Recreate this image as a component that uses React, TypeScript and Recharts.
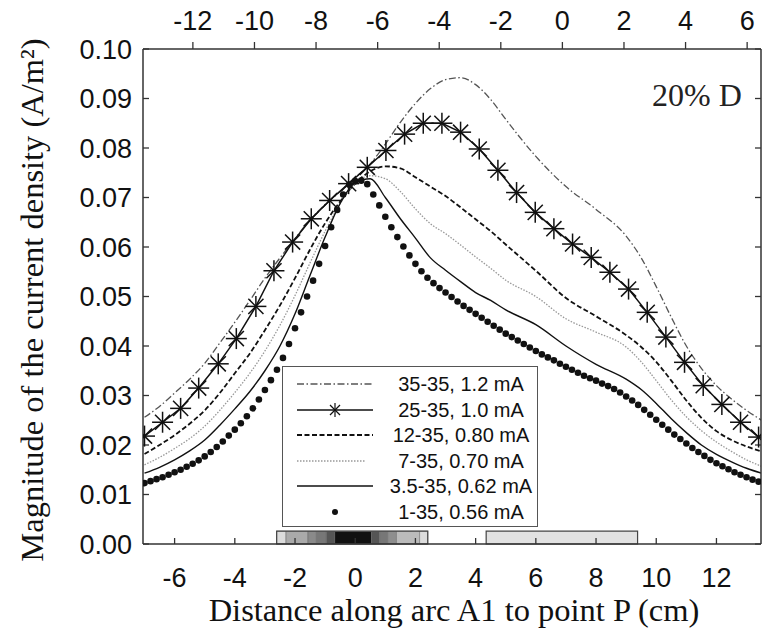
import { ComposedChart, Line, XAxis, YAxis, ReferenceArea } from "recharts";

// axis ticks
const topTicks = [-12, -10, -8, -6, -4, -2, 0, 2, 4, 6];
const bottomTicks = [-6, -4, -2, 0, 2, 4, 6, 8, 10, 12];
const yTicks = [0, 0.01, 0.02, 0.03, 0.04, 0.05, 0.06, 0.07, 0.08, 0.09, 0.1];

// shared x grid for the smooth curves (cm)
const gridX = [
  -7, -6.5, -6, -5.5, -5, -4.5, -4, -3.5, -3, -2.5,
  -2, -1.5, -1, -0.5, 0, 0.5, 1, 1.5, 2, 2.5,
  3, 3.5, 4, 4.5, 5, 6, 7, 8, 9, 9.5,
  10, 10.5, 11, 11.5, 12, 12.5, 13, 13.5,
];

// 35-35, 1.2 mA
const j35 = [
  0.0256, 0.0278, 0.0305, 0.0333, 0.0365, 0.0406, 0.0448, 0.0492, 0.0537, 0.0578,
  0.0617, 0.0655, 0.0686, 0.0712, 0.074, 0.0768, 0.0808, 0.0852, 0.089, 0.092,
  0.0938, 0.0942, 0.0928, 0.0898, 0.0858, 0.0783, 0.0722, 0.0676, 0.0622, 0.0578,
  0.052, 0.0458, 0.04, 0.0355, 0.032, 0.0293, 0.027, 0.025,
];

// 12-35, 0.80 mA
const j12 = [
  0.0182, 0.02, 0.022, 0.0243, 0.027, 0.0305, 0.0345, 0.0385, 0.0432, 0.0482,
  0.0537, 0.0595, 0.0648, 0.0692, 0.0728, 0.0753, 0.0763, 0.0759, 0.0741, 0.0722,
  0.0703, 0.068, 0.0656, 0.0632, 0.0605, 0.0552, 0.0497, 0.046, 0.0422, 0.0398,
  0.0368, 0.033, 0.029, 0.0255, 0.0228, 0.021, 0.0197, 0.0187,
];

// 7-35, 0.70 mA
const j7 = [
  0.016, 0.0175, 0.0193, 0.0213, 0.0238, 0.027, 0.0306, 0.0345, 0.039, 0.0442,
  0.0502, 0.0568, 0.0632, 0.0688, 0.0728, 0.0744, 0.0738, 0.0712, 0.0677, 0.0647,
  0.0627, 0.0604, 0.058, 0.0557, 0.0533, 0.05, 0.0455, 0.0428, 0.0398, 0.0368,
  0.033, 0.0291, 0.0257, 0.0229, 0.0206, 0.0187, 0.017, 0.0157,
];

// 3.5-35, 0.62 mA
const j3p5 = [
  0.0143, 0.0155, 0.017, 0.0188, 0.021, 0.024, 0.0273, 0.0308, 0.035, 0.04,
  0.0465, 0.0543, 0.062, 0.0688, 0.073, 0.0738, 0.07, 0.0657, 0.0618, 0.0578,
  0.0553, 0.053, 0.0508, 0.0492, 0.0473, 0.0443, 0.04, 0.0363, 0.0333, 0.0312,
  0.0284, 0.0253, 0.0225, 0.02, 0.0181, 0.0166, 0.0153, 0.0143,
];

// 25-35, 1.0 mA (star markers)
const starX = [
  -7.0, -6.4, -5.8, -5.2, -4.55, -3.95, -3.3, -2.7, -2.08, -1.46,
  -0.85, -0.22, 0.4, 1.02, 1.64, 2.26, 2.88, 3.5, 4.12, 4.74,
  5.36, 5.98, 6.6, 7.22, 7.84, 8.46, 9.08, 9.7, 10.32, 10.94,
  11.56, 12.18, 12.8, 13.4,
];
const j25 = [
  0.0218, 0.0246, 0.0274, 0.0315, 0.0364, 0.0415, 0.048, 0.0552, 0.061, 0.0657,
  0.0694, 0.0728, 0.0761, 0.0795, 0.0828, 0.085, 0.085, 0.0832, 0.0798, 0.0755,
  0.071, 0.067, 0.0637, 0.0606, 0.0579, 0.0549, 0.0515, 0.0468, 0.0418, 0.0367,
  0.032, 0.0282, 0.0246, 0.0216,
];

// 1-35, 0.56 mA (dots)
const dotX = [
  -7.0, -6.8, -6.6, -6.4, -6.2, -6.0, -5.8, -5.6, -5.4, -5.2,
  -5.0, -4.8, -4.6, -4.4, -4.2, -4.0, -3.8, -3.6, -3.4, -3.2,
  -3.0, -2.8, -2.6, -2.4, -2.2, -2.0, -1.8, -1.6, -1.4, -1.2,
  -1.0, -0.8, -0.6, -0.4, -0.2, 0.0, 0.2, 0.4, 0.6, 0.8,
  1.0, 1.2, 1.4, 1.6, 1.8, 2.0, 2.2, 2.4, 2.6, 2.8,
  3.0, 3.2, 3.4, 3.6, 3.8, 4.0, 4.2, 4.4, 4.6, 4.8,
  5.0, 5.2, 5.4, 5.6, 5.8, 6.0, 6.2, 6.4, 6.6, 6.8,
  7.0, 7.2, 7.4, 7.6, 7.8, 8.0, 8.2, 8.4, 8.6, 8.8,
  9.0, 9.2, 9.4, 9.6, 9.8, 10.0, 10.2, 10.4, 10.6, 10.8,
  11.0, 11.2, 11.4, 11.6, 11.8, 12.0, 12.2, 12.4, 12.6, 12.8,
  13.0, 13.2, 13.4,
];
const j1 = [
  0.0123, 0.0127, 0.0131, 0.0135, 0.014, 0.0145, 0.015, 0.0156, 0.0162, 0.0169,
  0.0177, 0.0186, 0.0196, 0.0207, 0.0219, 0.0231, 0.0244, 0.0258, 0.0274, 0.0292,
  0.0311, 0.0331, 0.0352, 0.0376, 0.0404, 0.0436, 0.0468, 0.05, 0.0532, 0.0566,
  0.0602, 0.064, 0.0675, 0.0706, 0.0726, 0.0733, 0.0734, 0.0727, 0.0706, 0.0684,
  0.0661, 0.064, 0.062, 0.0601, 0.0583, 0.0566, 0.0551, 0.0538, 0.0527, 0.0517,
  0.0508, 0.0499, 0.049, 0.0481, 0.0473, 0.0465, 0.0457, 0.0449, 0.0441, 0.0433,
  0.0425, 0.0418, 0.0411, 0.0404, 0.0397, 0.039, 0.0383, 0.0377, 0.0371, 0.0364,
  0.0358, 0.0352, 0.0346, 0.034, 0.0335, 0.033, 0.0324, 0.0319, 0.0313, 0.0306,
  0.0298, 0.029, 0.0281, 0.0271, 0.0261, 0.0251, 0.0241, 0.0231, 0.0221, 0.0212,
  0.0203, 0.0194, 0.0186, 0.0178, 0.017, 0.0163, 0.0157, 0.0151, 0.0145, 0.014,
  0.0135, 0.013, 0.0126,
];

// electrode strips drawn at the foot of the plot (cm)
const padEdges = [-2.61, -2.3, -1.57, -1.29, -0.96, -0.68, 0.54, 0.81, 1.08, 1.37, 2.14, 2.41];
const padShades = ["#dcdcdc", "#aaaaaa", "#8a8a8a", "#777777", "#555555", "#111111", "#555555", "#777777", "#8e8e8e", "#bbbbbb", "#dcdcdc"];
const returnPad = [4.35, 9.38];

const legendLabels = ["35-35, 1.2 mA", "25-35, 1.0 mA", "12-35, 0.80 mA", "7-35, 0.70 mA", "3.5-35, 0.62 mA", "1-35, 0.56 mA"];

const zip = (xs: number[], ys: number[]) => xs.map((x, i) => ({ x, y: ys[i] }));

const sans = "'Liberation Sans', Arial, sans-serif";
const serif = "'Liberation Serif', 'Times New Roman', serif";
const PAD_TOP = 0.0026;

function StarDot(props: any) {
  const { cx, cy, index } = props;
  if (cx == null || cy == null) return <g key={`s-${index}`} />;
  const r = 10.5;
  const d = r * 0.72;
  return (
    <g key={`s-${index}`} stroke="#111" strokeWidth={1.5}>
      <line x1={cx} y1={cy - r} x2={cx} y2={cy + r} />
      <line x1={cx - r} y1={cy} x2={cx + r} y2={cy} />
      <line x1={cx - d} y1={cy - d} x2={cx + d} y2={cy + d} />
      <line x1={cx - d} y1={cy + d} x2={cx + d} y2={cy - d} />
    </g>
  );
}

function LegendSample({ i }: { i: number }) {
  const y = 7;
  if (i === 0) return <line x1={0} y1={y} x2={76} y2={y} stroke="#555" strokeWidth={1.3} strokeDasharray="7 2.5 1.5 2.5" />;
  if (i === 1)
    return (
      <g>
        <line x1={0} y1={y} x2={76} y2={y} stroke="#111" strokeWidth={1.4} />
        <g stroke="#111" strokeWidth={1.2}>
          <line x1={38} y1={y - 7} x2={38} y2={y + 7} />
          <line x1={33} y1={y - 5} x2={43} y2={y + 5} />
          <line x1={33} y1={y + 5} x2={43} y2={y - 5} />
        </g>
      </g>
    );
  if (i === 2) return <line x1={0} y1={y} x2={76} y2={y} stroke="#111" strokeWidth={1.8} strokeDasharray="5 2.5" />;
  if (i === 3) return <line x1={0} y1={y} x2={68} y2={y} stroke="#999" strokeWidth={1.3} strokeDasharray="1.5 1.5" />;
  if (i === 4) return <line x1={0} y1={y} x2={76} y2={y} stroke="#111" strokeWidth={1.4} />;
  return <circle cx={38} cy={y} r={3} fill="#111" />;
}

const NoLabel = () => <g />;

export default function App() {
  return (
    <div style={{ position: "relative", width: 763, height: 631, background: "#fff" }}>
      <style>{`body{margin:0}`}</style>
      <ComposedChart width={763} height={631} margin={{ top: 0, right: 0, bottom: 0, left: 0 }}>
        <XAxis
          xAxisId="bottom"
          dataKey="x"
          type="number"
          domain={[-7.05, 13.48]}
          allowDataOverflow
          ticks={bottomTicks}
          height={87}
          tickSize={-6}
          tickMargin={30}
          axisLine={{ stroke: "#333", strokeWidth: 1.5 }}
          tickLine={{ stroke: "#333", strokeWidth: 1.3 }}
          tick={{ fill: "#111", fontSize: 27, fontFamily: sans }}
        />
        <XAxis
          xAxisId="top"
          orientation="top"
          dataKey="x"
          type="number"
          domain={[-13.62, 6.45]}
          allowDataOverflow
          ticks={topTicks}
          height={49}
          tickSize={7}
          tickMargin={12}
          axisLine={{ stroke: "#333", strokeWidth: 1.5 }}
          tickLine={{ stroke: "#333", strokeWidth: 1.3 }}
          tick={{ fill: "#111", fontSize: 27, fontFamily: sans }}
        />
        <YAxis
          yAxisId="left"
          type="number"
          domain={[0, 0.1]}
          allowDataOverflow
          ticks={yTicks}
          width={143}
          tickSize={-6}
          tickMargin={17}
          tickFormatter={(v: number) => v.toFixed(2)}
          axisLine={{ stroke: "#333", strokeWidth: 1.5 }}
          tickLine={{ stroke: "#333", strokeWidth: 1.3 }}
          tick={{ fill: "#111", fontSize: 27, fontFamily: sans }}
        />
        <YAxis
          yAxisId="right"
          orientation="right"
          type="number"
          domain={[0, 0.1]}
          allowDataOverflow
          ticks={yTicks}
          width={2}
          tickSize={-6}
          tick={NoLabel}
          axisLine={{ stroke: "#333", strokeWidth: 1.5 }}
          tickLine={{ stroke: "#333", strokeWidth: 1.3 }}
        />

        {padShades.map((shade, i) => (
          <ReferenceArea
            key={`pad-${i}`}
            xAxisId="bottom"
            yAxisId="left"
            x1={padEdges[i]}
            x2={padEdges[i + 1]}
            y1={0}
            y2={PAD_TOP}
            fill={shade}
            fillOpacity={1}
            stroke="#666"
            strokeWidth={0.5}
          />
        ))}
        <ReferenceArea xAxisId="bottom" yAxisId="left" x1={padEdges[0]} x2={padEdges[padEdges.length - 1]} y1={0} y2={PAD_TOP} fill="none" stroke="#444" strokeWidth={1.2} />
        <ReferenceArea xAxisId="bottom" yAxisId="left" x1={returnPad[0]} x2={returnPad[1]} y1={0} y2={PAD_TOP} fill="#e2e2e2" fillOpacity={1} stroke="#444" strokeWidth={1.2} />

        {/* invisible series so the right-hand axis is drawn */}
        <Line xAxisId="top" yAxisId="right" data={zip(gridX, j35)} dataKey="y" stroke="none" dot={false} activeDot={false} isAnimationActive={false} />

        <Line xAxisId="bottom" yAxisId="left" data={zip(gridX, j35)} dataKey="y" type="monotone" stroke="#555" strokeWidth={1.3} strokeDasharray="7 2.5 1.5 2.5" dot={false} activeDot={false} isAnimationActive={false} />
        <Line xAxisId="bottom" yAxisId="left" data={zip(gridX, j12)} dataKey="y" type="monotone" stroke="#111" strokeWidth={1.8} strokeDasharray="5 2.5" dot={false} activeDot={false} isAnimationActive={false} />
        <Line xAxisId="bottom" yAxisId="left" data={zip(gridX, j7)} dataKey="y" type="monotone" stroke="#999" strokeWidth={1.3} strokeDasharray="1.5 1.5" dot={false} activeDot={false} isAnimationActive={false} />
        <Line xAxisId="bottom" yAxisId="left" data={zip(gridX, j3p5)} dataKey="y" type="monotone" stroke="#111" strokeWidth={1.4} dot={false} activeDot={false} isAnimationActive={false} />
        <Line xAxisId="bottom" yAxisId="left" data={zip(dotX, j1)} dataKey="y" type="linear" stroke="none" dot={{ r: 3.3, fill: "#111", stroke: "none" }} activeDot={false} isAnimationActive={false} />
        <Line xAxisId="bottom" yAxisId="left" data={zip(starX, j25)} dataKey="y" type="linear" stroke="#111" strokeWidth={1.5} dot={StarDot} activeDot={false} isAnimationActive={false} />
      </ComposedChart>

      <div
        style={{
          position: "absolute",
          left: 32,
          top: 300,
          transform: "translate(-50%, -50%) rotate(-90deg)",
          whiteSpace: "nowrap",
          fontFamily: serif,
          fontSize: 32.5,
          color: "#111",
        }}
      >
        Magnitude of the current density (A/m²)
      </div>
      <div
        style={{
          position: "absolute",
          left: 454,
          top: 610,
          transform: "translate(-50%, -50%)",
          whiteSpace: "nowrap",
          fontFamily: serif,
          fontSize: 32.5,
          color: "#111",
        }}
      >
        Distance along arc A1 to point P (cm)
      </div>
      <div
        style={{
          position: "absolute",
          left: 652,
          top: 95,
          transform: "translateY(-50%)",
          whiteSpace: "nowrap",
          fontFamily: serif,
          fontSize: 32,
          color: "#222",
        }}
      >
        20% D
      </div>

      <div
        style={{
          position: "absolute",
          left: 282,
          top: 366,
          width: 256,
          height: 161,
          boxSizing: "border-box",
          border: "1.5px solid #555",
          background: "#fff",
        }}
      >
        {legendLabels.map((label, i) => (
          <div key={label} style={{ position: "absolute", left: 0, top: 17 + i * 25.6 - 12, width: 254, height: 24 }}>
            <svg width={80} height={14} style={{ position: "absolute", left: 14, top: 5 }}>
              <LegendSample i={i} />
            </svg>
            <div
              style={{
                position: "absolute",
                left: 100,
                width: 156,
                top: 0,
                lineHeight: "24px",
                textAlign: "center",
                fontFamily: sans,
                fontSize: 20,
                color: "#111",
                whiteSpace: "nowrap",
              }}
            >
              {label}
            </div>
          </div>
        ))}
      </div>
    </div>
  );
}
